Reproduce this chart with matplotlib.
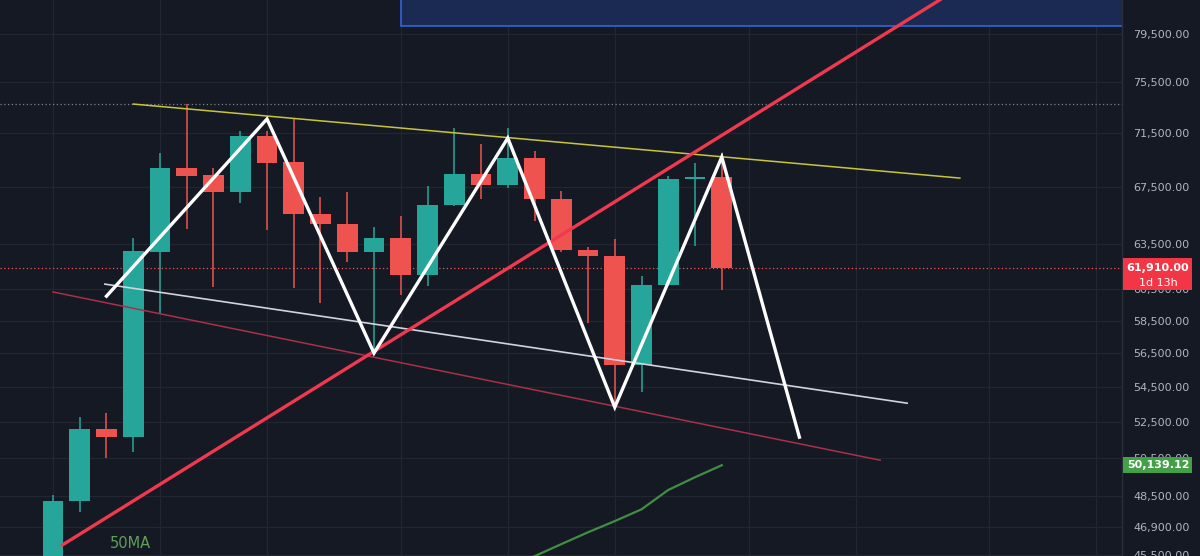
import numpy as np
import matplotlib
matplotlib.use("Agg")
import matplotlib.pyplot as plt
from matplotlib.patches import Rectangle
from matplotlib.transforms import IdentityTransform
from matplotlib.ticker import FixedLocator, FuncFormatter

# weekly candles
opens = [42500, 48220, 52080, 51640, 62950, 68870, 68380, 67130, 71280, 69320, 65560, 64870, 62950,
         63900, 61420, 66200, 68430, 67630, 69620, 66630, 63090, 62680, 55780, 60770, 68070, 68200]
highs = [48530, 52760, 52980, 63900, 69990, 73760, 68870, 71650, 71700, 72590, 66770, 67130, 64660,
         65420, 67560, 71890, 70670, 71890, 70140, 67200, 63290, 63830, 61360, 68290, 69250, 69990]
lows = [42000, 47650, 50490, 50820, 58970, 64520, 60640, 66340, 64450, 60570, 59610, 62280, 56500,
        60120, 60700, 66130, 66630, 67400, 65070, 62950, 58350, 53320, 54190, 60700, 63360, 60440]
closes = [48220, 52080, 51640, 63020, 68870, 68290, 67130, 71280, 69250, 65560, 64870, 62950, 63900,
          61420, 66200, 68430, 67630, 69620, 66630, 63090, 62680, 55780, 60770, 68070, 68200, 61910]

# 50MA tail
ma_idx = [17, 18, 19, 20, 21, 22, 23, 24, 25]
ma_val = [44890, 45460, 46050, 46640, 47200, 47800, 48800, 49470, 50110]

# drawings
zig_x = [2.0, 8.0, 12.0, 17.0, 21.0, 25.0, 27.9]
zig_y = [60050, 72590, 56500, 71120, 53320, 69690, 51640]
red_trend_x = [0.34, 34.65]
red_trend_y = [46000, 84690]
yellow_x = [3.0, 33.9]
yellow_y = [73760, 68140]
white_x = [1.94, 31.93]
white_y = [60830, 53550]
dred_x = [0.0, 30.92]
dred_y = [60320, 50380]
box_x = [13.0, 40.5]
box_y = [80180, 95000]

price_ticks = [45500, 46900, 48500, 50500, 52500, 54500, 56500, 58500, 60500,
               63500, 67500, 71500, 75500, 79500]
month_idx = [0, 4, 8, 13, 17, 21, 26, 30, 35, 39]
last_price = 61910
ma_last = 50139.12
ath = 73760

BG = "#151924"
GRID = "#222633"
UP = "#26a69a"
DN = "#ef5350"

fig = plt.figure(figsize=(12, 5.56), dpi=100, facecolor=BG)
ax = fig.add_axes([0, 0, 1122 / 1200, 1])
ax.set_facecolor(BG)
ax.set_yscale("log")
ax.set_xlim(-1.98, 39.96)
ax.set_ylim(45470, 82450)

for v in price_ticks:
    ax.axhline(v, color=GRID, lw=0.9, zorder=0)
for m in month_idx:
    ax.axvline(m, color=GRID, lw=0.9, zorder=0)

# blue zone
ax.add_patch(Rectangle((box_x[0], box_y[0]), box_x[1] - box_x[0], box_y[1] - box_y[0],
                       fc="#1b2a52", ec="#3563d8", lw=1.2, zorder=1))

# dotted reference lines
ax.axhline(ath, color="#7d808a", ls=(0, (1, 2)), lw=0.9, zorder=1)
ax.axhline(last_price, color=DN, ls=(0, (1, 2)), lw=0.9, zorder=1)

# candles
x = np.arange(len(opens))
o = np.array(opens, float)
c = np.array(closes, float)
col = [UP if cc >= oo else DN for oo, cc in zip(o, c)]
ax.vlines(x, lows, highs, colors=col, lw=1.1, zorder=2)
bot = np.minimum(o, c)
hgt = np.maximum(np.abs(c - o), 80)
ax.bar(x, hgt, bottom=bot, width=0.77, color=col, zorder=3)

# 50MA
ax.plot(ma_idx, ma_val, color="#3f8f42", lw=1.6, zorder=3)

# trend drawings
ax.plot(dred_x, dred_y, color="#a8304a", lw=1.1, zorder=4)
ax.plot(white_x, white_y, color="#d1d4dc", lw=1.2, zorder=4)
ax.plot(yellow_x, yellow_y, color="#c9c53a", lw=1.1, zorder=4)
ax.plot(red_trend_x, red_trend_y, color="#f0394f", lw=2.4, zorder=5, solid_capstyle="round")
ax.plot(zig_x, zig_y, color="white", lw=2.4, zorder=6, solid_joinstyle="miter")

ax.text(130 / 1122, 1 - 544 / 556, "50MA", transform=ax.transAxes, color="#5f9e5b",
        fontsize=10.5, ha="center", va="center")

# price scale
ax.yaxis.tick_right()
ax.yaxis.set_major_locator(FixedLocator(price_ticks))
ax.yaxis.set_minor_locator(FixedLocator([]))
ax.yaxis.set_major_formatter(FuncFormatter(lambda v, p: f"{v:,.2f}"))
ax.tick_params(axis="y", length=0, pad=8, labelsize=8, labelcolor="#b2b5be")
ax.tick_params(axis="x", bottom=False, labelbottom=False)
for s in ["top", "bottom", "left"]:
    ax.spines[s].set_visible(False)
ax.spines["right"].set_color("#2a2e39")
ax.spines["right"].set_linewidth(1)

fig.canvas.draw()


def ypix(v):
    return ax.transData.transform((0, v))[1]


x0 = 1123
yl = ypix(last_price)
fig.add_artist(Rectangle((x0, yl - 22), 69, 32, transform=IdentityTransform(), fc="#f23645", ec="none"))
fig.text(x0 + 35, yl, f"{last_price:,.2f}", transform=IdentityTransform(), color="white",
         fontsize=8, ha="center", va="center", fontweight="bold")
fig.text(x0 + 35, yl - 15, "1d 13h", transform=IdentityTransform(), color="white",
         fontsize=8, ha="center", va="center")

ym = ypix(ma_last)
fig.add_artist(Rectangle((x0, ym - 8), 69, 16, transform=IdentityTransform(), fc="#43a047", ec="none"))
fig.text(x0 + 35, ym, f"{ma_last:,.2f}", transform=IdentityTransform(), color="white",
         fontsize=8, ha="center", va="center", fontweight="bold")

fig.savefig("out.png", dpi=100, facecolor=BG)
